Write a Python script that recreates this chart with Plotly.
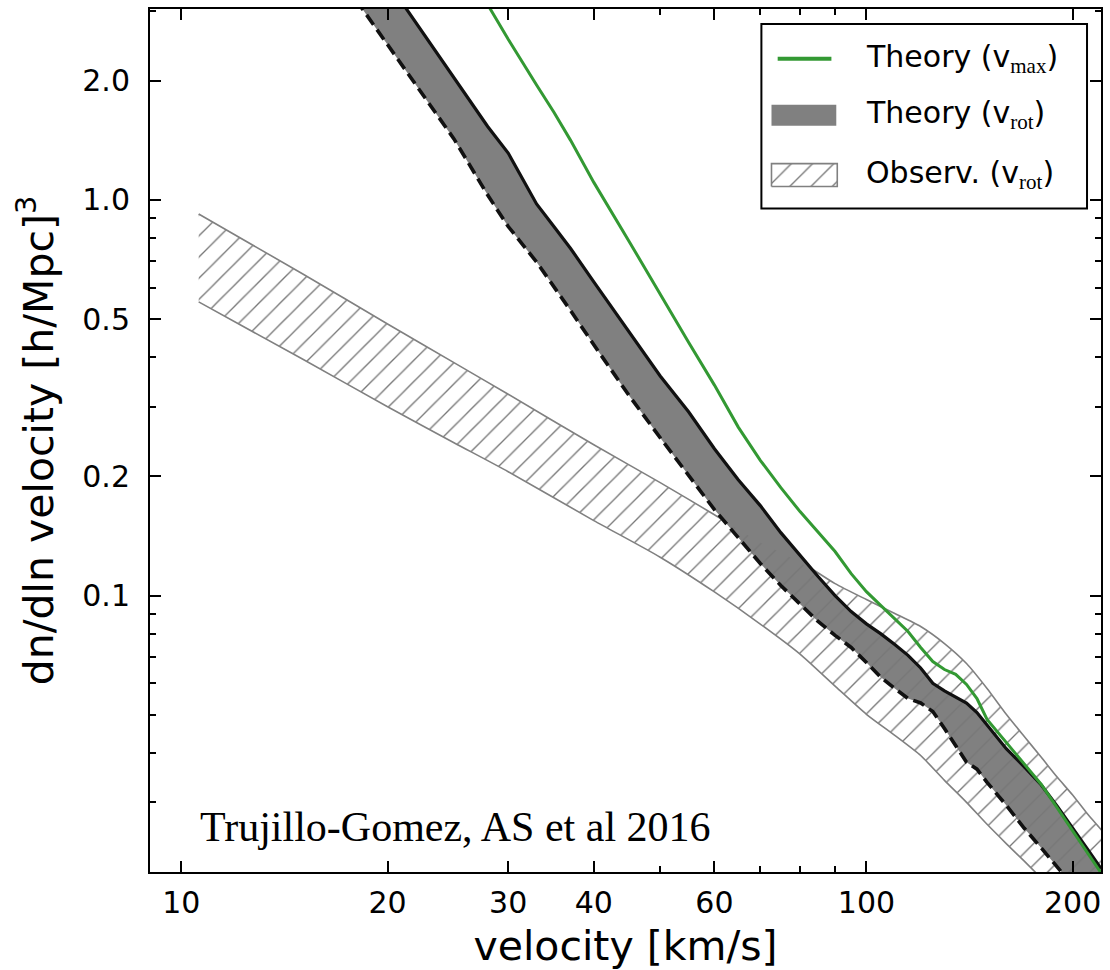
import numpy as np
import plotly.graph_objects as go

# ---------------------------------------------------------------
# Velocity function dn/dln v  [(h/Mpc)^3]
# ---------------------------------------------------------------
# Theory band (v_rot): upper edge (solid) and lower edge (dashed)
theory_v = [18, 20, 22, 25, 28, 30, 33, 35, 37, 40, 45, 50, 55, 60, 65, 70, 75, 80,
            85, 90, 95, 100, 105, 110, 115, 120, 125, 130, 135, 140, 145, 150,
            160, 170, 180, 190, 200, 210, 220]
theory_hi = [4.64, 3.562, 2.801, 2.033, 1.534, 1.314, 0.977, 0.856, 0.754, 0.621, 0.464,
             0.359, 0.2915, 0.2350, 0.1963, 0.1688, 0.1442, 0.1262, 0.1117, 0.1000,
             0.0911, 0.0848, 0.0800, 0.0752, 0.0706, 0.0656, 0.0600, 0.0574, 0.0554,
             0.0535, 0.0506, 0.0470, 0.0410, 0.0369, 0.0332, 0.0293, 0.0259, 0.0229,
             0.0204]
theory_lo = [3.20, 2.465, 1.945, 1.427, 1.029, 0.857, 0.697, 0.6034, 0.5252, 0.4305,
             0.3209, 0.2506, 0.2020, 0.1649, 0.1401, 0.1205, 0.1060, 0.0954, 0.0860,
             0.0793, 0.0739, 0.0677, 0.0621, 0.0582, 0.0549, 0.0535, 0.0509, 0.0461,
             0.0418, 0.0379, 0.0364, 0.0337, 0.0295, 0.0258, 0.0230, 0.0206, 0.0185,
             0.0168, 0.0152]

# Theory (v_max)
vmax_v = [27, 28, 30, 33, 35, 37, 40, 45, 50, 55, 60, 65, 70, 75, 80, 85, 90, 95, 100,
          105, 110, 115, 120, 125, 130, 135, 140, 145, 150, 160, 170, 180, 190, 200,
          210, 220]
vmax_n = [3.47, 3.114, 2.548, 1.954, 1.664, 1.415, 1.108, 0.788, 0.5766, 0.4367, 0.3404,
          0.2666, 0.2197, 0.1874, 0.1630, 0.1442, 0.1292, 0.1136, 0.1023, 0.0943,
          0.0875, 0.0811, 0.0739, 0.0681, 0.0650, 0.0632, 0.0596, 0.0549, 0.0486,
          0.0425, 0.0376, 0.0333, 0.0290, 0.0254, 0.0223, 0.0199]

# Observed band (v_rot)
obs_v = [10.6, 15, 20, 25, 30, 40, 50, 60, 70, 80, 90, 100, 110, 120, 130, 140, 150,
         160, 170, 180, 190, 200, 210, 220, 230]
obs_hi = [0.922, 0.652, 0.486, 0.388, 0.3227, 0.2405, 0.1929, 0.1601, 0.1369, 0.1219,
          0.1072, 0.0977, 0.0901, 0.0835, 0.0756, 0.0673, 0.0582, 0.0501, 0.0440,
          0.0390, 0.0347, 0.0313, 0.0281, 0.0256, 0.0233]
obs_lo = [0.5527, 0.3967, 0.3001, 0.2434, 0.2056, 0.1547, 0.1250, 0.1021, 0.0847,
          0.0711, 0.0590, 0.0501, 0.0443, 0.0394, 0.0341, 0.0300, 0.0264, 0.0236,
          0.0213, 0.0193, 0.0176, 0.0160, 0.0145, 0.0133, 0.0123]

# Axes
x_range = (9, 220)
y_range = (0.02, 3.04)
x_major = [10, 20, 30, 40, 60, 100, 200]
x_major_text = ["10", "20", "30", "40", "60", "100", "200"]
x_minor = [50, 70, 80, 90]
y_major = [0.1, 0.2, 0.5, 1.0, 2.0]
y_major_text = ["0.1", "0.2", "0.5", "1.0", "2.0"]
y_minor = [0.03, 0.04, 0.05, 0.06, 0.07, 0.08, 0.09, 0.3, 0.4, 0.6, 0.7, 0.8, 0.9, 3.0]

legend_labels = [
    "Theory (v<sub><span style='font-family:Liberation Serif'>max</span></sub>)",
    "Theory (v<sub><span style='font-family:Liberation Serif'>rot</span></sub>)",
    "Observ. (v<sub><span style='font-family:Liberation Serif'>rot</span></sub>)",
]
credit = "Trujillo-Gomez, AS et al 2016"

# Styles
GREEN = "#339933"
BAND_GRAY = "#808080"
HATCH_GRAY = "#777777"
SANS = "DejaVu Sans"
hatch = dict(shape="/", size=15, solidity=0.09, fgcolor=HATCH_GRAY,
             bgcolor="rgba(0,0,0,0)", fillmode="replace")

fig = go.Figure()

# gray theory band
fig.add_trace(go.Scatter(x=theory_v, y=theory_lo, mode="lines",
                         line=dict(width=0, color=BAND_GRAY), showlegend=False,
                         hoverinfo="skip"))
fig.add_trace(go.Scatter(x=theory_v, y=theory_hi, mode="lines", fill="tonexty",
                         fillcolor=BAND_GRAY, line=dict(width=0, color=BAND_GRAY),
                         showlegend=False, hoverinfo="skip"))

# hatched observational band
fig.add_trace(go.Scatter(x=obs_v + obs_v[::-1], y=obs_hi + obs_lo[::-1], mode="lines",
                         line_shape="spline", line_smoothing=0.6,
                         fill="toself", fillcolor="rgba(0,0,0,0)", fillpattern=hatch,
                         line=dict(width=1.6, color=BAND_GRAY), showlegend=False,
                         hoverinfo="skip"))

# band edges
fig.add_trace(go.Scatter(x=theory_v, y=theory_lo, mode="lines",
                         line=dict(width=3.6, color="#111111", dash="12px,6px"),
                         showlegend=False))
fig.add_trace(go.Scatter(x=theory_v, y=theory_hi, mode="lines",
                         line=dict(width=3.2, color="#111111"), showlegend=False))

# v_max curve
fig.add_trace(go.Scatter(x=vmax_v, y=vmax_n, mode="lines",
                         line=dict(width=3, color=GREEN), showlegend=False))

# ---- legend box (own small frame with unit coordinates) ----
lx0, lx1 = 0.6429, 0.9853
ly0, ly1 = 0.7688, 0.9827
fig.add_trace(go.Scatter(x=[0.05, 0.215], y=[0.811, 0.811], mode="lines",
                         line=dict(width=4, color=GREEN), xaxis="x3", yaxis="y3",
                         showlegend=False, hoverinfo="skip"))
fig.add_trace(go.Scatter(x=[0.031, 0.23, 0.23, 0.031, 0.031],
                         y=[0.449, 0.449, 0.562, 0.562, 0.449], mode="lines",
                         fill="toself", fillcolor=BAND_GRAY, line=dict(width=0),
                         xaxis="x3", yaxis="y3", showlegend=False, hoverinfo="skip"))
fig.add_trace(go.Scatter(x=[0.031, 0.233, 0.233, 0.031, 0.031],
                         y=[0.119, 0.119, 0.243, 0.243, 0.119], mode="lines",
                         fill="toself", fillcolor="rgba(0,0,0,0)", fillpattern=hatch,
                         line=dict(width=1.6, color=BAND_GRAY),
                         xaxis="x3", yaxis="y3", showlegend=False, hoverinfo="skip"))

fig.add_shape(type="rect", xref="paper", yref="paper", x0=lx0, x1=lx1, y0=ly0, y1=ly1,
              line=dict(color="black", width=2), fillcolor="rgba(0,0,0,0)", layer="above")

for label, ypos in zip(legend_labels, [0.9422, 0.8775, 0.8081]):
    fig.add_annotation(text=label, xref="paper", yref="paper", x=0.751, y=ypos,
                       xanchor="left", yanchor="middle", showarrow=False,
                       font=dict(family=SANS, size=30, color="black"))

fig.add_annotation(text=credit, xref="paper", yref="paper", x=0.0504, y=0.052,
                   xanchor="left", yanchor="middle", showarrow=False,
                   font=dict(family="Liberation Serif", size=42, color="black"))

axis_common = dict(showline=True, linewidth=2, linecolor="black", mirror="ticks",
                   ticks="inside", ticklen=11, tickwidth=1.5, tickcolor="black",
                   showgrid=False, zeroline=False,
                   tickfont=dict(family=SANS, size=30, color="black"))

fig.update_layout(
    width=1110, height=970, autosize=False,
    margin=dict(l=150, r=8, t=7, b=98),
    paper_bgcolor="white", plot_bgcolor="white",
    showlegend=False,
    xaxis=dict(type="log", range=[np.log10(x_range[0]), np.log10(x_range[1])],
               tickmode="array", tickvals=x_major, ticktext=x_major_text,
               minor=dict(tickmode="array", tickvals=x_minor, ticks="inside",
                          ticklen=6, tickwidth=1.5, tickcolor="black", showgrid=False),
               ticklabelstandoff=3,
               title=dict(text="velocity [km/s]",
                          font=dict(family=SANS, size=41, color="black"), standoff=12),
               **axis_common),
    yaxis=dict(type="log", range=[np.log10(y_range[0]), np.log10(y_range[1])],
               tickmode="array", tickvals=y_major, ticktext=y_major_text,
               minor=dict(tickmode="array", tickvals=y_minor, ticks="inside",
                          ticklen=6, tickwidth=1.5, tickcolor="black", showgrid=False),
               ticklabelstandoff=12,
               title=dict(text="dn/dln velocity [h/Mpc]<sup>3</sup>",
                          font=dict(family=SANS, size=41, color="black"), standoff=16),
               **axis_common),
    xaxis3=dict(domain=[lx0, lx1], range=[0, 1], visible=False, fixedrange=True,
                anchor="y3"),
    yaxis3=dict(domain=[ly0, ly1], range=[0, 1], visible=False, fixedrange=True,
                anchor="x3"),
)

fig.write_html("out.html")
